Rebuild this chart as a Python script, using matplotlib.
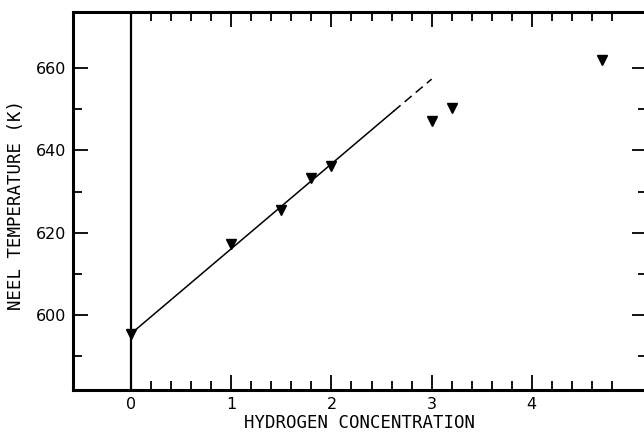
#!/usr/bin/env python
# -*- coding: utf-8 -*-

import numpy as np
import matplotlib
matplotlib.use('Agg')
import matplotlib.pyplot as plt

# measured Neel temperatures
conc = [0.0, 1.0, 1.5, 1.8, 2.0, 3.0, 3.2, 4.7]
t_neel = [595.5, 617.3, 625.5, 633.2, 636.1, 647.1, 650.3, 661.9]

# linear fit, solid part then dashed extrapolation
fit_x = [0.0, 2.62]
fit_y = [595.5, 649.5]
extra_x = [2.62, 3.0]
extra_y = [649.5, 657.3]

x_major = [0, 1, 2, 3, 4]
x_minor = [0.2, 0.4, 0.6, 0.8, 1.2, 1.4, 1.6, 1.8, 2.2, 2.4, 2.6, 2.8,
           3.2, 3.4, 3.6, 3.8, 4.2, 4.4, 4.6, 4.8]
y_major = [600, 620, 640, 660]
y_minor = [590, 610, 630, 650]

plt.rcParams['font.family'] = 'DejaVu Sans'

fig = plt.figure(figsize=(6.44, 4.34), dpi=100)
ax = fig.add_axes([73/644., 1-390/434., 574/644., 378/434.])

ax.axvline(0, color='k', lw=1.6)
ax.plot(fit_x, fit_y, '-k', lw=1.1)
ax.plot(extra_x, extra_y, color='k', lw=1.1, dashes=(6, 3.5))
ax.plot(conc, t_neel, 'vk', ms=7, clip_on=False)

ax.set_xlim(-0.58, 5.15)
ax.set_ylim(581.8, 673.6)

ax.set_xticks(x_major)
ax.set_xticks(x_minor, minor=True)
ax.set_yticks(y_major)
ax.set_yticks(y_minor, minor=True)

ax.tick_params(which='both', direction='in', top=True, right=True,
               width=1.3, labelsize=11.5, pad=5, color='k')
ax.tick_params(which='major', length=10.5)
ax.tick_params(which='minor', length=6.5)

for sp in ax.spines.values():
    sp.set_linewidth(2.2)

# the original lettering is evenly spaced, a mono font gets close
ax.set_xlabel('HYDROGEN CONCENTRATION', fontsize=12.5, va='center',
              family='DejaVu Sans Mono')
ax.xaxis.set_label_coords(0.5, -33/378.)
ax.set_ylabel('NEEL TEMPERATURE (K)', fontsize=12.5, va='center',
              family='DejaVu Sans Mono')
ax.yaxis.set_label_coords(-57/574., 0.49)

fig.savefig('out.png', dpi=100)
